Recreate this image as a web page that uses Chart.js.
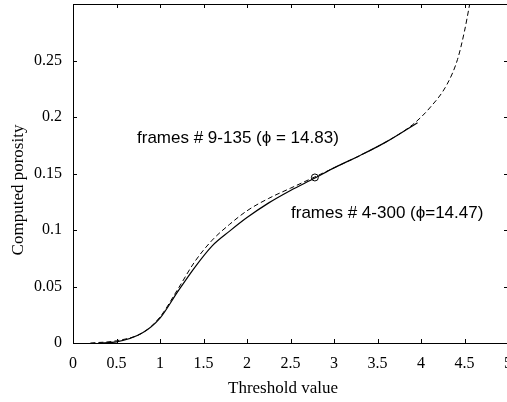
<!DOCTYPE html>
<html>
<head>
<meta charset="utf-8">
<script src="https://cdn.jsdelivr.net/npm/chart.js@4/dist/chart.umd.min.js"></script>
<style>
  html, body { margin: 0; padding: 0; overflow: hidden; background: #fff; }
  #wrap { position: absolute; left: 0; top: 0; width: 510px; height: 402px; }
</style>
</head>
<body>
<div id="wrap"><canvas id="myChart" width="510" height="402"></canvas></div>
<script>
// frames # 9-135 (dashed curve)
const thrA = [0.2, 0.5, 0.8, 1.0, 1.2, 1.4, 1.6, 1.8, 2.0, 2.25, 2.5, 2.78, 3.0, 3.3, 3.6, 3.9, 4.1, 4.3, 4.42, 4.5, 4.56];
const porA = [0, 0.002, 0.009, 0.023, 0.047, 0.072, 0.091, 0.105, 0.117, 0.128, 0.137, 0.147, 0.155, 0.166, 0.178, 0.193, 0.208, 0.229, 0.251, 0.276, 0.30];

// frames # 4-300 (solid curve)
const thrB = [0.3, 0.5, 0.8, 1.0, 1.2, 1.4, 1.6, 1.8, 2.0, 2.25, 2.5, 2.78, 3.0, 3.3, 3.6, 3.96];
const porB = [0, 0.001, 0.009, 0.022, 0.045, 0.067, 0.086, 0.099, 0.111, 0.124, 0.135, 0.146, 0.155, 0.166, 0.178, 0.195];

// circled point where the two curves meet
const markX = [2.78];
const markY = [0.1465];

const xTickLabels = ["0", "0.5", "1", "1.5", "2", "2.5", "3", "3.5", "4", "4.5", "5"];
const yTickLabels = ["0", "0.05", "0.1", "0.15", "0.2", "0.25", ""];

const labelA = "frames # 9-135 (\u03D5 = 14.83)";
const labelB = "frames # 4-300 (\u03D5=14.47)";

function toPoints(xs, ys) {
  return xs.map((x, i) => ({ x: x, y: ys[i] }));
}

const serif = "'Liberation Serif', 'Times New Roman', serif";
const sans = "'Liberation Sans', Arial, sans-serif";

// draws the box, inward tick marks and the text labels
const framePlugin = {
  id: "frame",
  afterDraw(chart) {
    const c = chart.ctx;
    const a = chart.chartArea;
    const xs = chart.scales.x;
    const ys = chart.scales.y;
    c.save();
    c.strokeStyle = "#000";
    c.lineWidth = 1;
    c.strokeRect(a.left + 0.5, a.top + 0.5, a.right - a.left, a.bottom - a.top);
    c.beginPath();
    xs.ticks.forEach((t, i) => {
      const px = Math.round(xs.getPixelForTick(i)) + 0.5;
      c.moveTo(px, a.bottom); c.lineTo(px, a.bottom - 4);
      c.moveTo(px, a.top); c.lineTo(px, a.top + 4);
    });
    ys.ticks.forEach((t, i) => {
      const py = Math.round(ys.getPixelForTick(i)) + 0.5;
      c.moveTo(a.left, py); c.lineTo(a.left + 4, py);
      c.moveTo(a.right, py); c.lineTo(a.right - 4, py);
    });
    c.stroke();

    c.fillStyle = "#000";
    c.font = "17px " + sans;
    c.textBaseline = "middle";
    c.textAlign = "left";
    c.fillText(labelA, 137, 138);
    c.fillText(labelB, 291, 213);

    // axis titles
    c.font = "17px " + serif;
    c.textAlign = "center";
    c.fillText("Threshold value", 283, 389);
    c.translate(19, 190);
    c.rotate(-Math.PI / 2);
    c.fillText("Computed porosity", 0, 0);
    c.restore();
  },
};

const ctx = document.getElementById("myChart").getContext("2d");

const myChart = new Chart(ctx, {
  type: "line",
  data: {
    datasets: [
      {
        label: "frames # 9-135",
        data: toPoints(thrA, porA),
        borderColor: "#000",
        borderWidth: 1,
        borderDash: [5, 3],
        pointRadius: 0,
        fill: false,
        cubicInterpolationMode: "monotone",
      },
      {
        label: "frames # 4-300",
        data: toPoints(thrB, porB),
        borderColor: "#000",
        borderWidth: 1.2,
        pointRadius: 0,
        fill: false,
        cubicInterpolationMode: "monotone",
      },
      {
        label: "mark",
        data: toPoints(markX, markY),
        showLine: false,
        pointStyle: "circle",
        pointRadius: 3.5,
        pointBorderWidth: 1,
        pointBorderColor: "#000",
        pointBackgroundColor: "rgba(0,0,0,0)",
      },
    ],
  },
  options: {
    responsive: false,
    animation: false,
    devicePixelRatio: 1,
    layout: { autoPadding: false, padding: { top: 4, right: 2, left: 0, bottom: 0 } },
    plugins: {
      legend: { display: false },
      tooltip: { enabled: false },
    },
    scales: {
      x: {
        type: "linear",
        min: 0,
        max: 5,
        grid: { display: false, drawTicks: false },
        border: { display: false },
        ticks: {
          stepSize: 0.5,
          padding: 11,
          color: "#000",
          maxRotation: 0,
          autoSkip: false,
          font: { family: serif, size: 16 },
          callback: (v, i) => xTickLabels[i],
        },
        afterFit(scale) {
          scale.height = 59;
          scale.paddingLeft = 0;
          scale.paddingRight = 0;
        },
      },
      y: {
        type: "linear",
        min: 0,
        max: 0.3,
        grid: { display: false, drawTicks: false },
        border: { display: false },
        ticks: {
          stepSize: 0.05,
          padding: 11,
          color: "#000",
          autoSkip: false,
          font: { family: serif, size: 16 },
          callback: (v, i) => yTickLabels[i],
        },
        afterFit(scale) {
          scale.width = 73;
          scale.paddingTop = 0;
          scale.paddingBottom = 0;
        },
      },
    },
  },
  plugins: [framePlugin],
});
</script>
</body>
</html>
